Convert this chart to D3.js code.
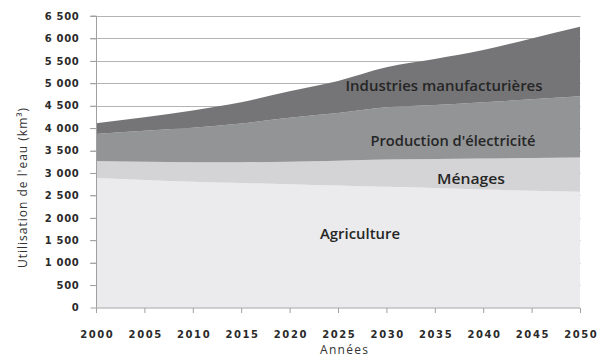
<!DOCTYPE html>
<html>
<head>
<meta charset="utf-8">
<script src="https://cdn.jsdelivr.net/npm/d3@7"></script>
<style>
  html, body { margin: 0; padding: 0; background: #fff; }
  svg { display: block; }
</style>
</head>
<body>
<svg id="chart" width="597" height="358"></svg>
<script>
// ---- Data (km³ per year) ----
const years       = [2000, 2005, 2010, 2015, 2020, 2025, 2030, 2035, 2040, 2045, 2050];
const agriculture = [2890, 2845, 2805, 2775, 2750, 2720, 2690, 2665, 2630, 2605, 2580];
const menages     = [ 377,  405,  433,  465,  501,  555,  610,  645,  692,  728,  765];
const production  = [ 602,  690,  771,  863,  981, 1062, 1164, 1205, 1253, 1310, 1365];
const industries  = [ 238,  300,  384,  473,  589,  714,  892, 1025, 1165, 1357, 1551];
const yTicks      = [0, 500, 1000, 1500, 2000, 2500, 3000, 3500, 4000, 4500, 5000, 5500, 6000, 6500];
const xTicks      = [2000, 2005, 2010, 2015, 2020, 2025, 2030, 2035, 2040, 2045, 2050];
const seriesKeys   = ["agriculture", "menages", "production", "industries"];
const seriesLabels = ["Agriculture", "Ménages", "Production d'électricité", "Industries manufacturières"];
const yTitle = "Utilisation de l'eau (km³)";
const xTitle = "Années";

const colors = {agriculture: "#ebebed", menages: "#d4d4d6", production: "#939496", industries: "#757577"};

const table = years.map((yr, i) => ({
  year: yr, agriculture: agriculture[i], menages: menages[i],
  production: production[i], industries: industries[i]
}));

const svg = d3.select("#chart");
const x = d3.scaleLinear().domain([2000, 2050]).range([96, 580]);
const y = d3.scaleLinear().domain([0, 6500]).range([307.5, 16]);

const locale = d3.formatLocale({decimal: ",", thousands: " ", grouping: [3], currency: ["", ""]});
const fmt = locale.format(",d");

// gridlines (behind areas)
svg.append("g").selectAll("line").data(yTicks.filter(d => d > 0)).join("line")
  .attr("x1", 90).attr("x2", 580.5)
  .attr("y1", d => Math.round(y(d)) + 0.5).attr("y2", d => Math.round(y(d)) + 0.5)
  .attr("stroke", "#b4b4b4").attr("stroke-width", 1);

// stacked areas
const stack = d3.stack().keys(seriesKeys);
const layers = stack(table);
const area = d3.area()
  .x(d => x(d.data.year))
  .y0(d => y(d[0]))
  .y1(d => y(d[1]))
  .curve(d3.curveMonotoneX);

svg.append("g").selectAll("path").data(layers).join("path")
  .attr("d", area)
  .attr("fill", d => colors[d.key]);

// y axis
const yAxis = d3.axisLeft(y).tickValues(yTicks).tickFormat(fmt).tickSize(6).tickPadding(11);
const gy = svg.append("g").attr("transform", "translate(96.5,0)").call(yAxis);
gy.select(".domain").attr("stroke", "#a0a0a0").attr("d", `M-6,${y(6500)}H0V${y(0)}`);
gy.selectAll(".tick line").attr("stroke", "#a0a0a0");
gy.selectAll(".tick text")
  .attr("fill", "#2a2a2a")
  .style("font-family", "'DejaVu Sans', sans-serif")
  .style("font-weight", "bold")
  .style("font-size", "10px")
  .style("letter-spacing", "0.7px");

// x axis
const xAxis = d3.axisBottom(x).tickValues(xTicks).tickFormat(d3.format("d")).tickSize(5).tickPadding(18);
const gx = svg.append("g").attr("transform", "translate(0,308)").call(xAxis);
gx.select(".domain").attr("stroke", "#a0a0a0").attr("d", `M${x(2000)},0H${x(2050)}`);
gx.selectAll(".tick line").attr("stroke", "#a0a0a0");
gx.selectAll(".tick text")
  .attr("fill", "#2a2a2a")
  .attr("dx", "0.8px")
  .style("font-family", "'DejaVu Sans', sans-serif")
  .style("font-weight", "bold")
  .style("font-size", "10px")
  .style("letter-spacing", "1.6px");

// series labels
const labelPos = [
  {cx: 360, by: 238.5, w: 80},
  {cx: 471, by: 183.5, w: 68},
  {cx: 453, by: 146, w: 165},
  {cx: 444, by: 90.5, w: 197}
];
svg.append("g").selectAll("text").data(seriesLabels).join("text")
  .attr("x", (d, i) => labelPos[i].cx)
  .attr("y", (d, i) => labelPos[i].by)
  .attr("text-anchor", "middle")
  .attr("textLength", (d, i) => labelPos[i].w)
  .attr("lengthAdjust", "spacingAndGlyphs")
  .attr("fill", "#262626")
  .style("font-family", "'Open Sans', sans-serif")
  .style("font-weight", "600")
  .style("font-size", "14.5px")
  .text(d => d);

// axis titles
svg.append("text")
  .attr("transform", "translate(27,188) rotate(-90)")
  .attr("text-anchor", "middle")
  .attr("textLength", 160)
  .attr("lengthAdjust", "spacing")
  .attr("fill", "#333")
  .style("font-family", "'Open Sans', sans-serif")
  .style("font-size", "12px")
  .text(yTitle);

svg.append("text")
  .attr("x", 344).attr("y", 353.5)
  .attr("text-anchor", "middle")
  .attr("textLength", 48)
  .attr("lengthAdjust", "spacing")
  .attr("fill", "#333")
  .style("font-family", "'Open Sans', sans-serif")
  .style("font-size", "12px")
  .text(xTitle);
</script>
</body>
</html>
